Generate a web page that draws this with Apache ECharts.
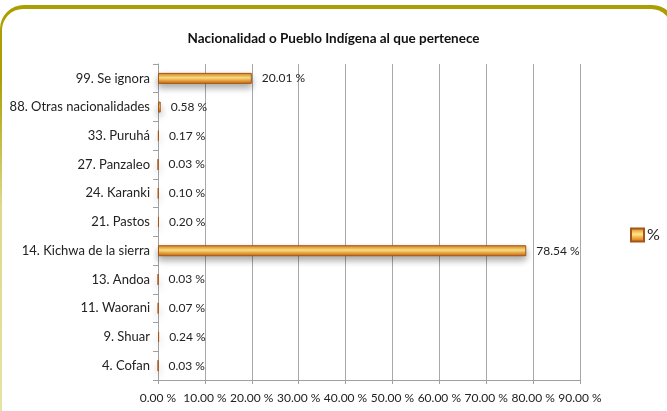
<!DOCTYPE html>
<html>
<head>
<meta charset="utf-8">
<script src="https://cdn.jsdelivr.net/npm/echarts@6/dist/echarts.min.js"></script>
<style>
  html, body { margin: 0; padding: 0; background: #fff; overflow: hidden; }
  #frame {
    position: absolute; left: 0; top: 5px; width: 676px; height: 460px;
    border-radius: 24px;
    background: linear-gradient(to bottom, #aa9e00 0px, #aa9e00 70px, #ddd88a 200px, #e9e6aa 100%);
  }
  #inner {
    position: absolute; left: 2px; top: 4px; right: 4px; bottom: 4px;
    border-radius: 21px; background: #fff;
  }
  #main { position: absolute; left: 0; top: 0; width: 667px; height: 411px; }
</style>
</head>
<body>
<div id="frame"><div id="inner"></div></div>
<div id="main"></div>
<script>
// categorias de abajo hacia arriba (eje de categorias de echarts)
const categorias = ['4. Cofan', '9. Shuar', '11. Waorani', '13. Andoa', '14. Kichwa de la sierra',
    '21. Pastos', '24. Karanki', '27. Panzaleo', '33. Puruhá', '88. Otras nacionalidades', '99. Se ignora'];
const porcentajes = [0.03, 0.24, 0.07, 0.03, 78.54, 0.20, 0.10, 0.03, 0.17, 0.58, 20.01];
const ticksX = [0, 10, 20, 30, 40, 50, 60, 70, 80, 90];

const fuente = 'Lato, "Open Sans", sans-serif';

let myChart = echarts.init(document.getElementById('main'));
let option = {
    textStyle: { fontFamily: fuente },
    title: {
        text: 'Nacionalidad o Pueblo Indígena al que pertenece',
        left: 'center',
        top: 27,
        textStyle: { fontFamily: fuente, fontSize: 13.5, fontWeight: 'bold', color: '#111' }
    },
    legend: {
        data: ['%'],
        left: 625,
        top: 222,
        icon: 'rect',
        itemWidth: 13,
        itemHeight: 13,
        itemGap: 4,
        textStyle: { fontFamily: fuente, fontSize: 16, color: '#222', padding: [0, 0, 0, -2] }
    },
    grid: { left: 158, right: 87, top: 64, bottom: 31, containLabel: false },
    xAxis: {
        type: 'value',
        min: ticksX[0],
        max: ticksX[ticksX.length - 1],
        interval: 10,
        axisLine: { show: true, lineStyle: { color: '#a0a0a0' } },
        axisTick: { show: true, length: 4, lineStyle: { color: '#a0a0a0' } },
        axisLabel: {
            fontFamily: fuente, fontSize: 12, color: '#222', margin: 12,
            formatter: v => v.toFixed(2) + ' %'
        },
        splitLine: { show: true, lineStyle: { color: '#a8a8a8', width: 1 } }
    },
    yAxis: {
        type: 'category',
        data: categorias,
        axisLine: { show: true, lineStyle: { color: '#a0a0a0' } },
        axisTick: { show: true, length: 5, lineStyle: { color: '#a0a0a0' } },
        axisLabel: { fontFamily: fuente, fontSize: 13, color: '#222', margin: 8 }
    },
    series: [
        {
            name: '%',
            type: 'bar',
            data: porcentajes,
            barWidth: 11,
            itemStyle: {
                color: new echarts.graphic.LinearGradient(0, 0, 0, 1, [
                    { offset: 0, color: '#d97a1c' },
                    { offset: 0.3, color: '#f6c35a' },
                    { offset: 0.45, color: '#fde88f' },
                    { offset: 0.7, color: '#f3a63e' },
                    { offset: 1, color: '#c4650f' }
                ]),
                borderColor: '#a4561a',
                borderWidth: 1,
                shadowColor: 'rgba(0,0,0,0.35)',
                shadowBlur: 7,
                shadowOffsetY: 4
            },
            label: {
                show: true,
                position: 'right',
                distance: 10,
                fontFamily: fuente,
                fontSize: 12,
                color: '#222',
                formatter: p => p.value.toFixed(2) + ' %'
            }
        }
    ]
};
myChart.setOption(option);
</script>
</body>
</html>
